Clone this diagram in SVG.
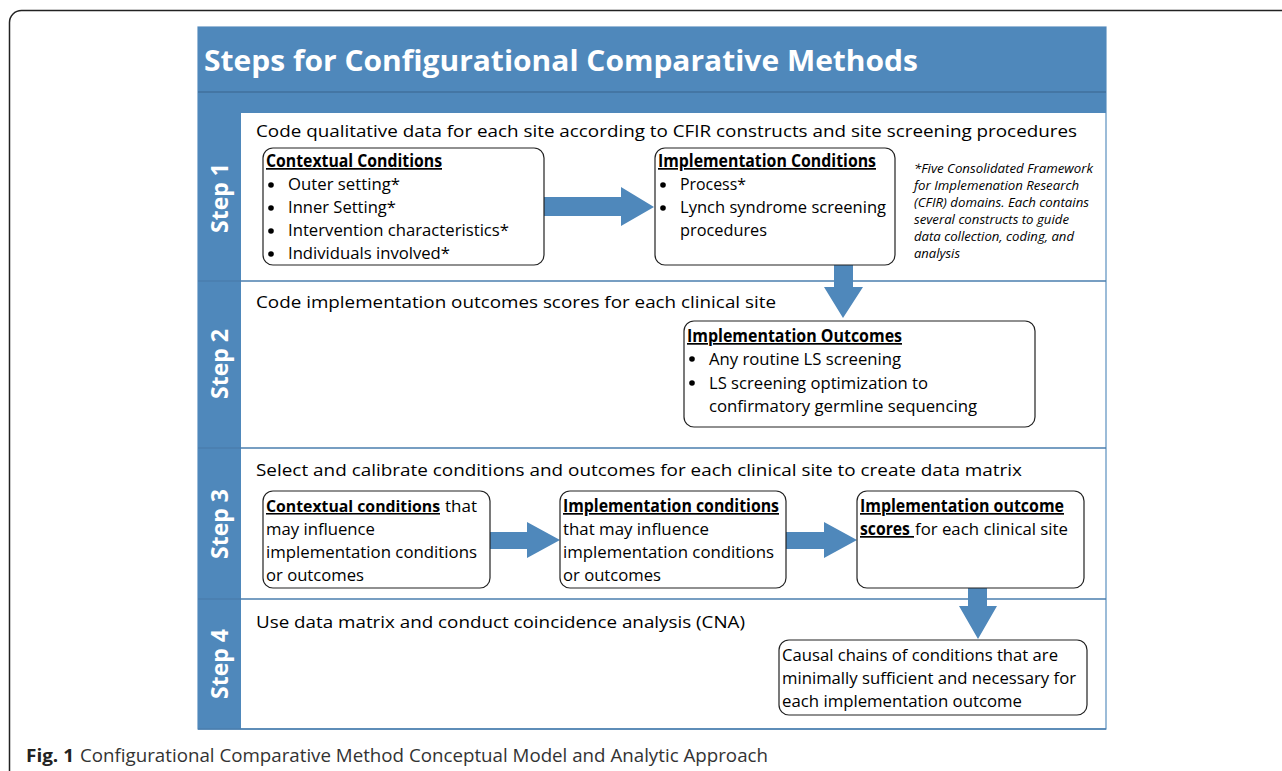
<svg xmlns="http://www.w3.org/2000/svg" width="1282" height="771" viewBox="0 0 1282 771">
<style>
text{font-family:"Open Sans","Noto Sans","Liberation Sans",sans-serif;fill:#000}
.t{font-size:17px}
.b{font-weight:bold}
.u{text-decoration:underline}
.note{font-size:12px;font-style:italic}
.step{font-size:23px;font-weight:bold;fill:#fff}
.box{fill:#fff;stroke:#222;stroke-width:1.2}
.arrow{fill:#4f88bb}
.sep{stroke:#4a7eae;stroke-width:1.5}
</style>
<rect x="9.5" y="10.5" width="1290" height="780" rx="12" fill="#fff" stroke="#222" stroke-width="1.5"/>
<g id="frame">
<rect x="198" y="27" width="908" height="702" fill="#fff" stroke="#5b8fbf" stroke-width="1.2"/>
<rect x="198" y="27" width="908" height="86" fill="#4f88bb"/>
<line x1="198" y1="92" x2="1106" y2="92" stroke="#41719c" stroke-width="1.5"/>
<rect x="198" y="113" width="43" height="616" fill="#4f88bb"/>
<line class="sep" x1="198" y1="281" x2="1106" y2="281"/>
<line class="sep" x1="198" y1="448" x2="1106" y2="448"/>
<line class="sep" x1="198" y1="599" x2="1106" y2="599"/>
<line class="sep" x1="198" y1="729" x2="1106" y2="729"/>
<text x="204" y="71" font-size="29" font-weight="bold" style="fill:#fff" textLength="714" lengthAdjust="spacingAndGlyphs">Steps for Configurational Comparative Methods</text>
</g>
<g id="step-labels">
<text class="step" transform="translate(228,198) rotate(-90)" text-anchor="middle">Step 1</text>
<text class="step" transform="translate(228,364) rotate(-90)" text-anchor="middle">Step 2</text>
<text class="step" transform="translate(228,524) rotate(-90)" text-anchor="middle">Step 3</text>
<text class="step" transform="translate(228,664) rotate(-90)" text-anchor="middle">Step 4</text>
</g>
<g id="step-headings">
<text class="t" x="256" y="137" textLength="821" lengthAdjust="spacingAndGlyphs">Code qualitative data for each site according to CFIR constructs and site screening procedures</text>
<text class="t" x="256" y="308" textLength="520" lengthAdjust="spacingAndGlyphs">Code implementation outcomes scores for each clinical site</text>
<text class="t" x="256" y="476" textLength="766" lengthAdjust="spacingAndGlyphs">Select and calibrate conditions and outcomes for each clinical site to create data matrix</text>
<text class="t" x="256" y="628" textLength="489" lengthAdjust="spacingAndGlyphs">Use data matrix and conduct coincidence analysis (CNA)</text>
</g>
<g id="connectors">
<polygon class="arrow" points="544,197 621,197 621,187 654,207 621,226 621,216 544,216"/>
<polygon class="arrow" points="834,265 853,265 853,287 863,287 843,318 824,287 834,287"/>
<polygon class="arrow" points="490,532 527,532 527,522 560,540 527,558 527,549 490,549"/>
<polygon class="arrow" points="786,532 824,532 824,522 857,540 824,558 824,549 786,549"/>
<polygon class="arrow" points="968,588 987,588 987,606 997,606 978,639 959,606 968,606"/>
</g>
<g id="contextual-conditions">
<rect class="box" x="263" y="148" width="281" height="117" rx="10"/>
<text class="t b u" x="266" y="167" textLength="176" lengthAdjust="spacingAndGlyphs">Contextual Conditions</text>
<circle cx="271" cy="185" r="2.8"/><circle cx="271" cy="208" r="2.8"/><circle cx="271" cy="231" r="2.8"/><circle cx="271" cy="254" r="2.8"/>
<text class="t" x="288" y="190" textLength="112" lengthAdjust="spacingAndGlyphs">Outer setting*</text>
<text class="t" x="288" y="213" textLength="108" lengthAdjust="spacingAndGlyphs">Inner Setting*</text>
<text class="t" x="288" y="236" textLength="221" lengthAdjust="spacingAndGlyphs">Intervention characteristics*</text>
<text class="t" x="288" y="259" textLength="162" lengthAdjust="spacingAndGlyphs">Individuals involved*</text>
</g>
<g id="implementation-conditions">
<rect class="box" x="655" y="148" width="240" height="117" rx="10"/>
<text class="t b u" x="658" y="167" textLength="218" lengthAdjust="spacingAndGlyphs">Implementation Conditions</text>
<circle cx="663" cy="185" r="2.8"/><circle cx="663" cy="208" r="2.8"/>
<text class="t" x="680" y="190" textLength="66" lengthAdjust="spacingAndGlyphs">Process*</text>
<text class="t" x="680" y="213" textLength="206" lengthAdjust="spacingAndGlyphs">Lynch syndrome screening</text>
<text class="t" x="680" y="236" textLength="87" lengthAdjust="spacingAndGlyphs">procedures</text>
</g>
<g id="cfir-note">
<text class="note" x="914" y="173" textLength="179" lengthAdjust="spacingAndGlyphs">*Five Consolidated Framework</text>
<text class="note" x="914" y="190" textLength="165" lengthAdjust="spacingAndGlyphs">for Implemenation Research</text>
<text class="note" x="914" y="207" textLength="175" lengthAdjust="spacingAndGlyphs">(CFIR) domains. Each contains</text>
<text class="note" x="914" y="224" textLength="155" lengthAdjust="spacingAndGlyphs">several constructs to guide</text>
<text class="note" x="914" y="241" textLength="160" lengthAdjust="spacingAndGlyphs">data collection, coding, and</text>
<text class="note" x="914" y="258" textLength="46" lengthAdjust="spacingAndGlyphs">analysis</text>
</g>
<g id="implementation-outcomes">
<rect class="box" x="684" y="321" width="351" height="106" rx="10"/>
<text class="t b u" x="687" y="342" textLength="215" lengthAdjust="spacingAndGlyphs">Implementation Outcomes</text>
<circle cx="692" cy="359" r="2.8"/><circle cx="692" cy="383" r="2.8"/>
<text class="t" x="709" y="365" textLength="192" lengthAdjust="spacingAndGlyphs">Any routine LS screening</text>
<text class="t" x="709" y="389" textLength="219" lengthAdjust="spacingAndGlyphs">LS screening optimization to</text>
<text class="t" x="709" y="412" textLength="268" lengthAdjust="spacingAndGlyphs">confirmatory germline sequencing</text>
</g>
<g id="contextual-step3">
<rect class="box" x="263" y="491" width="227" height="97" rx="10"/>
<text class="b u" x="266" y="512" font-size="15.5" textLength="174" lengthAdjust="spacingAndGlyphs">Contextual conditions</text>
<text class="t" x="445" y="512" textLength="32" lengthAdjust="spacingAndGlyphs">that</text>
<text class="t" x="266" y="535" textLength="109" lengthAdjust="spacingAndGlyphs">may influence</text>
<text class="t" x="266" y="558" textLength="211" lengthAdjust="spacingAndGlyphs">implementation conditions</text>
<text class="t" x="266" y="581" textLength="98" lengthAdjust="spacingAndGlyphs">or outcomes</text>
</g>
<g id="implementation-step3">
<rect class="box" x="560" y="491" width="226" height="97" rx="10"/>
<text class="t b u" x="563" y="512" textLength="216" lengthAdjust="spacingAndGlyphs">Implementation conditions</text>
<text class="t" x="563" y="535" textLength="146" lengthAdjust="spacingAndGlyphs">that may influence</text>
<text class="t" x="563" y="558" textLength="211" lengthAdjust="spacingAndGlyphs">implementation conditions</text>
<text class="t" x="563" y="581" textLength="98" lengthAdjust="spacingAndGlyphs">or outcomes</text>
</g>
<g id="outcome-scores">
<rect class="box" x="857" y="491" width="227" height="97" rx="10"/>
<text class="t b u" x="860" y="512" textLength="204" lengthAdjust="spacingAndGlyphs">Implementation outcome</text>
<text class="t b u" x="860" y="535" textLength="54" lengthAdjust="spacingAndGlyphs">scores&#160;</text>
<text class="t" x="915" y="535" textLength="153" lengthAdjust="spacingAndGlyphs">for each clinical site</text>
</g>
<g id="causal-chains">
<rect class="box" x="779" y="640" width="308" height="75" rx="10"/>
<text class="t" x="782" y="661" textLength="276" lengthAdjust="spacingAndGlyphs">Causal chains of conditions that are</text>
<text class="t" x="782" y="684" textLength="294" lengthAdjust="spacingAndGlyphs">minimally sufficient and necessary for</text>
<text class="t" x="782" y="707" textLength="240" lengthAdjust="spacingAndGlyphs">each implementation outcome</text>
</g>
<g id="caption">
<text x="26" y="762" font-size="18" font-weight="bold" style="fill:#222" textLength="48" lengthAdjust="spacingAndGlyphs">Fig. 1</text>
<text x="80" y="762" font-size="18" style="fill:#333" textLength="688" lengthAdjust="spacingAndGlyphs">Configurational Comparative Method Conceptual Model and Analytic Approach</text>
</g>
</svg>
